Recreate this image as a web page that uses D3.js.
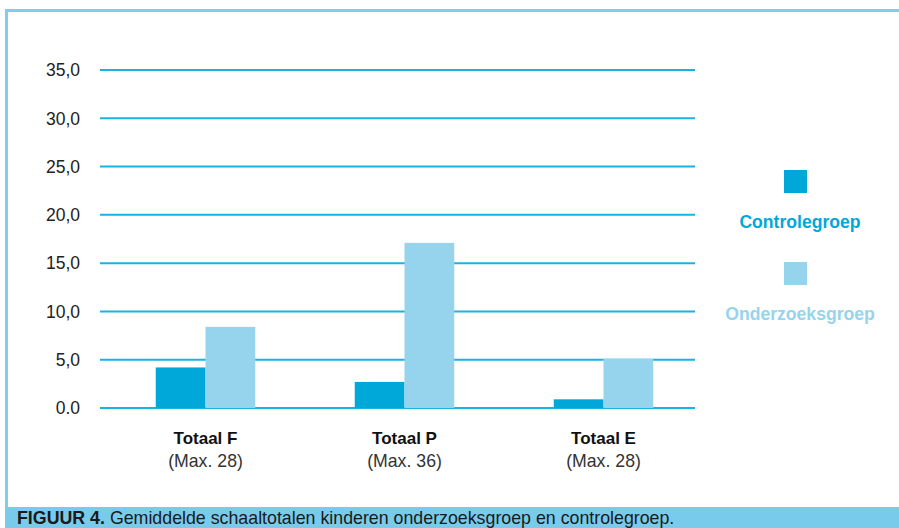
<!DOCTYPE html>
<html>
<head>
<meta charset="utf-8">
<script src="https://cdn.jsdelivr.net/npm/d3@7"></script>
<style>
  html, body { margin: 0; padding: 0; background: #fff; }
  svg { display: block; font-family: "Liberation Sans", Arial, sans-serif; }
</style>
</head>
<body>
<svg id="chart" width="899" height="528"></svg>
<script>
// data
var categories = ["Totaal F", "Totaal P", "Totaal E"];
var maxLabels = ["(Max. 28)", "(Max. 36)", "(Max. 28)"];
var groups = ["Controlegroep", "Onderzoeksgroep"];
var controle = [4.2, 2.7, 0.9];
var onderzoek = [8.4, 17.1, 5.1];
var yTicks = [0, 5, 10, 15, 20, 25, 30, 35];
var yTickLabels = ["0.0", "5,0", "10,0", "15,0", "20,0", "25,0", "30,0", "35,0"];

var colours = {
    Controlegroep: "#00a8d9",
    Onderzoeksgroep: "#96d4ee"
};

var svg = d3.select("#chart");

// frame
svg.append("rect")
    .attr("x", 6.5).attr("y", 10.5)
    .attr("width", 900).attr("height", 510)
    .attr("fill", "none")
    .attr("stroke", "#7ecfec")
    .attr("stroke-width", 3);

// caption bar
svg.append("rect")
    .attr("x", 5).attr("y", 507)
    .attr("width", 894).attr("height", 21)
    .attr("fill", "#78cbea");

var caption = svg.append("text")
    .attr("x", 17).attr("y", 524)
    .attr("font-size", 17.8)
    .attr("fill", "#1a1a1a");
caption.append("tspan").attr("font-weight", "bold").text("FIGUUR 4.");
caption.append("tspan").text(" Gemiddelde schaaltotalen kinderen onderzoeksgroep en controlegroep.");

// scales
var y = d3.scaleLinear().domain([0, 35]).range([408, 70]);
var x = d3.scaleBand().domain(categories).range([106, 703]).paddingInner(0.5).paddingOuter(0.25);
var xSub = d3.scaleBand().domain(groups).range([0, x.bandwidth()]);

// gridlines
svg.append("g")
    .attr("class", "grid")
    .selectAll("line")
    .data(yTicks)
    .enter().append("line")
    .attr("x1", 100).attr("x2", 695)
    .attr("y1", (d) => y(d)).attr("y2", (d) => y(d))
    .attr("stroke", "#1ab2e0")
    .attr("stroke-width", 2);

// y labels
svg.append("g")
    .selectAll("text")
    .data(yTicks)
    .enter().append("text")
    .attr("x", 80)
    .attr("y", (d) => y(d))
    .attr("dy", "0.36em")
    .attr("text-anchor", "end")
    .attr("font-size", 17.5)
    .attr("fill", "#222")
    .text((d, i) => yTickLabels[i]);

// bars
var rows = categories.map((c, i) => ({
    cat: c,
    vals: [{ g: groups[0], v: controle[i] }, { g: groups[1], v: onderzoek[i] }]
}));

svg.append("g")
    .selectAll("g")
    .data(rows)
    .enter().append("g")
    .attr("transform", (d) => `translate(${x(d.cat)},0)`)
    .selectAll("rect")
    .data((d) => d.vals)
    .enter().append("rect")
    .attr("x", (d) => xSub(d.g))
    .attr("width", xSub.bandwidth())
    .attr("y", (d) => y(d.v))
    .attr("height", (d) => y(0) - y(d.v))
    .attr("fill", (d) => colours[d.g]);

// category labels
var catLabels = svg.append("g")
    .selectAll("g")
    .data(categories)
    .enter().append("g")
    .attr("transform", (d) => `translate(${x(d) + x.bandwidth() / 2},0)`);

catLabels.append("text")
    .attr("y", 444)
    .attr("text-anchor", "middle")
    .attr("font-size", 17)
    .attr("font-weight", "bold")
    .attr("fill", "#111")
    .text((d) => d);

catLabels.append("text")
    .attr("y", 467)
    .attr("text-anchor", "middle")
    .attr("font-size", 17.7)
    .attr("fill", "#333")
    .text((d, i) => maxLabels[i]);

// legend
var legend = svg.append("g")
    .selectAll("g")
    .data(groups)
    .enter().append("g")
    .attr("transform", (d, i) => `translate(800,${170 + i * 92})`);

legend.append("rect")
    .attr("x", -16).attr("y", 0)
    .attr("width", 23).attr("height", 23)
    .attr("fill", (d) => colours[d]);

legend.append("text")
    .attr("x", 0).attr("y", 58)
    .attr("text-anchor", "middle")
    .attr("font-size", 17.6)
    .attr("font-weight", "bold")
    .attr("fill", (d) => colours[d])
    .text((d) => d);
</script>
</body>
</html>
